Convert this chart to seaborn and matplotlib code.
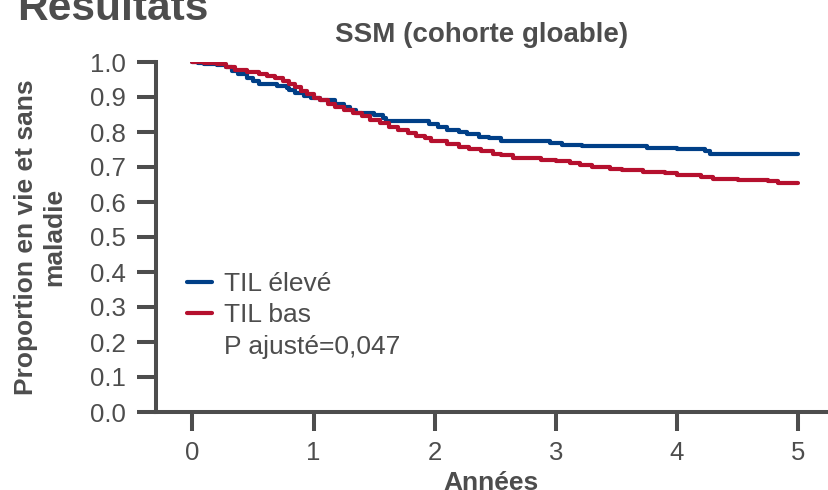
import matplotlib
matplotlib.use("Agg")
import matplotlib.pyplot as plt
from matplotlib.lines import Line2D
import pandas as pd
import seaborn as sns

# Kaplan-Meier steps
HIGH_T = [0, 0.05, 0.1, 0.2, 0.28, 0.33, 0.38, 0.45, 0.5, 0.55, 0.7, 0.78, 0.8, 0.85, 0.92,
          0.98, 1.05, 1.18, 1.25, 1.3, 1.35, 1.5, 1.57, 1.6, 1.95, 2.03, 2.1, 2.2, 2.27, 2.37,
          2.45, 2.55, 2.95, 3.05, 3.22, 3.75, 4.0, 4.23, 4.27, 5.0]
HIGH_S = [1.0, 0.997, 0.993, 0.99, 0.985, 0.975, 0.965, 0.955, 0.945, 0.937, 0.932, 0.925, 0.92, 0.912, 0.903,
          0.896, 0.89, 0.88, 0.872, 0.862, 0.854, 0.849, 0.84, 0.83, 0.822, 0.814, 0.806, 0.8, 0.793, 0.787,
          0.783, 0.775, 0.769, 0.764, 0.759, 0.754, 0.751, 0.745, 0.737, 0.737]
LOW_T = [0, 0.1, 0.2, 0.28, 0.35, 0.45, 0.55, 0.62, 0.68, 0.75, 0.8, 0.85, 0.9, 0.95, 1.0,
         1.05, 1.12, 1.18, 1.25, 1.33, 1.4, 1.47, 1.55, 1.62, 1.7, 1.78, 1.85, 1.92, 1.97, 2.1,
         2.2, 2.28, 2.38, 2.48, 2.55, 2.65, 2.88, 3.0, 3.12, 3.2, 3.3, 3.45, 3.55, 3.72, 3.9,
         4.0, 4.2, 4.3, 4.5, 4.75, 4.83, 5.0]
LOW_S = [1.0, 0.997, 0.993, 0.985, 0.978, 0.972, 0.967, 0.96, 0.953, 0.945, 0.937, 0.928, 0.918, 0.908, 0.898,
         0.89, 0.88, 0.87, 0.862, 0.855, 0.845, 0.835, 0.826, 0.815, 0.807, 0.797, 0.789, 0.782, 0.775, 0.765,
         0.757, 0.75, 0.745, 0.738, 0.733, 0.727, 0.72, 0.717, 0.71, 0.705, 0.70, 0.694, 0.69, 0.686, 0.682,
         0.677, 0.67, 0.666, 0.662, 0.659, 0.653, 0.653]
GROUPS = ["TIL élevé", "TIL bas"]
P_TEXT = "P ajusté=0,047"
X_TICKS = [0, 1, 2, 3, 4, 5]
Y_TICKS = [0.0, 0.1, 0.2, 0.3, 0.4, 0.5, 0.6, 0.7, 0.8, 0.9, 1.0]

BLUE = "#003f87"
RED = "#b5102e"
GREY = "#4d4d4d"

df = pd.concat([
    pd.DataFrame({"t": HIGH_T, "s": HIGH_S, "group": GROUPS[0]}),
    pd.DataFrame({"t": LOW_T, "s": LOW_S, "group": GROUPS[1]}),
])

sns.set_style("ticks")
plt.rcParams["font.family"] = ["Liberation Sans", "DejaVu Sans"]
plt.rcParams["text.color"] = GREY
plt.rcParams["axes.labelcolor"] = GREY

fig = plt.figure(figsize=(8.29, 4.9), dpi=100)
ax = fig.add_axes([156 / 829, 1 - 412 / 490, (826 - 156) / 829, (412 - 62) / 490])

sns.lineplot(data=df, x="t", y="s", hue="group", palette=[BLUE, RED],
             drawstyle="steps-post", estimator=None, linewidth=3, ax=ax, legend=False)

ax.set_xlim(-0.3, 5.23)
ax.set_ylim(0, 1.0)
ax.set_xticks(X_TICKS)
ax.set_yticks(Y_TICKS)
ax.set_yticklabels([f"{v:.1f}" for v in Y_TICKS])
sns.despine(ax=ax)
for side in ["left", "bottom"]:
    ax.spines[side].set_linewidth(2.9)
    ax.spines[side].set_color(GREY)
ax.spines["left"].set_capstyle("projecting")
ax.tick_params(axis="both", length=14, width=2.9, color=GREY, labelcolor=GREY, labelsize=18.5)
ax.tick_params(axis="y", pad=8)
ax.tick_params(axis="x", pad=7)

ax.set_xlabel("Années", fontsize=19, fontweight="bold", labelpad=4)
ax.set_ylabel("Proportion en vie et sans\nmaladie", fontsize=19, fontweight="bold", linespacing=1.2)
ax.yaxis.set_label_coords(-0.134, 0.5)

handles = [Line2D([], [], color=BLUE, lw=3), Line2D([], [], color=RED, lw=3),
           Line2D([], [], color="none")]
ax.legend(handles, GROUPS + [P_TEXT], loc="upper left", bbox_to_anchor=(187 / 829, 1 - 272 / 490),
          bbox_transform=fig.transFigure, frameon=False, fontsize=19, handlelength=0.95,
          handletextpad=0.45, labelspacing=0.28, borderpad=0, borderaxespad=0)

fig.text(482 / 829, 1 - 42 / 490, "SSM (cohorte gloable)", ha="center", va="baseline",
         fontsize=20, fontweight="bold", color=GREY)
fig.text(17 / 829, 1 - 20 / 490, "Résultats", ha="left", va="baseline",
         fontsize=30.5, fontweight="bold", color=GREY)

fig.savefig("out.png", dpi=100)
